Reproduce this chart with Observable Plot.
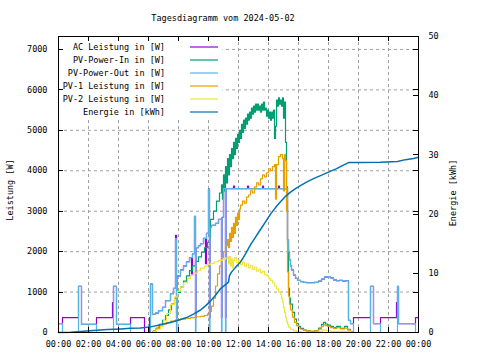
<!DOCTYPE html>
<html><head><meta charset="utf-8">
<script src="https://cdn.jsdelivr.net/npm/d3@7"></script>
<script src="https://cdn.jsdelivr.net/npm/@observablehq/plot@0.6"></script>
<style>body{margin:0;background:#fff}svg{display:block}</style>
</head><body><div id="chart"></div>
<script>
// ---------- data ----------
const title = "Tagesdiagramm vom 2024-05-02";
const xTicks = [0,2,4,6,8,10,12,14,16,18,20,22,24];
const yTicks = [0,1000,2000,3000,4000,5000,6000,7000];
const y2Ticks = [0,10,20,30,40,50];
const seriesNames = ["AC Leistung in [W]","PV-Power-In in [W]","PV-Power-Out in [W]","PV-1 Leistung in [W]","PV-2 Leistung in [W]","Energie in [kWh]"];
const seriesColors = ["#9400d3","#009e73","#56b4e9","#e69f00","#f0e442","#0072b2"];

const acTimes = ["00:00","00:16","01:20","01:32","02:32","03:36","03:40","03:52","04:48","05:44","06:04","06:08","06:16","06:28","06:40","06:56","07:08","07:28","07:40","07:48","07:52","07:54","08:08","08:20","08:32","08:44","08:52","08:56","09:04","09:08","09:10","09:20","09:28","09:40","09:48","09:52","10:00","10:04","10:06","10:12","10:28","10:40","10:52","10:54","11:00","11:08","11:10","11:16","11:40","11:44","12:36","12:40","13:36","13:40","14:40","14:44","15:16","15:20","15:24","15:28","15:32","15:40","15:48","15:56","16:08","16:20","16:32","16:48","17:04","17:20","17:32","17:44","17:56","18:08","18:20","18:32","18:44","18:56","19:08","19:20","19:28","19:40","20:48","21:00","21:28","22:32","22:36","22:40","23:48","24:00"];
const acValues = [220,370,1140,200,370,740,1140,200,370,0,370,1200,450,480,540,620,790,960,1090,2400,370,1400,1550,1650,1750,1850,1450,1950,2870,370,2100,2150,2200,2330,1700,2450,3550,370,2600,2650,2700,2800,370,2850,3560,370,3560,3560,3620,3560,3620,3560,3620,3560,3620,3560,2300,2000,1800,1650,1550,1420,1340,1290,1260,1240,1230,1230,1240,1270,1320,1370,1380,1350,1300,1280,1290,1270,1280,300,220,370,1140,220,370,740,1140,220,370,370];

const pvInTimes = ["06:08","06:20","06:32","06:44","06:56","07:08","07:20","07:32","07:44","07:56","08:08","08:20","08:32","08:44","08:56","09:08","09:20","09:32","09:44","09:56","10:04","10:08","10:20","10:32","10:44","10:52","10:56","11:00","11:04","11:08","11:12","11:16","11:20","11:24","11:28","11:32","11:36","11:40","11:44","11:48","11:52","11:56","12:00","12:04","12:08","12:12","12:16","12:20","12:24","12:28","12:32","12:36","12:40","12:44","12:48","12:52","12:56","13:00","13:04","13:08","13:12","13:16","13:20","13:24","13:28","13:32","13:36","13:40","13:44","13:48","13:52","13:56","14:00","14:04","14:08","14:12","14:16","14:20","14:24","14:28","14:32","14:36","14:40","14:44","14:48","14:52","14:56","15:00","15:04","15:08","15:12","15:16","15:20","15:24","15:28","15:36","15:44","15:52","16:00","16:08","16:20","16:32","16:48","17:04","17:20","17:32","17:40","17:48","17:56","18:08","18:20","18:32","18:48","19:04","19:16","19:28","19:40"];
const pvInValues = [0,40,110,200,300,420,560,700,850,990,1130,1270,1400,1530,1650,1760,1870,1990,2100,2230,2350,2800,3000,3250,3450,3650,3300,3900,3500,4100,3700,4300,3900,4400,4100,4550,4300,4700,4400,4800,4550,4900,4700,5000,4800,5150,4950,5250,5050,5300,5150,5400,5250,5450,5300,5550,5400,5600,5450,5650,5500,5650,5500,5600,5450,5650,5500,5700,5500,5550,5350,5500,5300,5450,5250,5450,5300,5500,4800,5100,5750,5600,5800,5650,5750,5600,5800,5300,5700,4700,3600,2200,1100,850,700,500,330,220,150,100,60,40,30,40,110,200,250,210,180,150,120,150,100,150,80,20,0];

const pvOutTimes = ["00:00","00:16","01:20","01:32","02:32","03:40","03:52","04:48","06:08","06:16","06:28","06:40","06:56","07:08","07:28","07:40","07:48","07:52","07:54","08:08","08:20","08:32","08:44","08:56","09:04","09:08","09:10","09:20","09:28","09:40","09:52","10:00","10:04","10:06","10:12","10:28","10:40","10:52","10:54","11:00","11:08","11:10","11:16","15:16","15:20","15:24","15:28","15:32","15:40","15:48","15:56","16:08","16:20","16:32","16:48","17:04","17:20","17:32","17:44","17:56","18:08","18:20","18:32","18:44","18:56","19:08","19:20","19:28","19:40","20:48","21:00","21:28","22:36","22:40","23:48","24:00"];
const pvOutValues = [220,0,1140,200,0,1140,200,0,1200,450,480,540,620,790,960,1090,2320,0,1400,1550,1650,1750,1850,1950,2870,0,2100,2150,2200,2330,2450,3550,0,2600,2650,2700,2800,0,2850,3560,0,3560,3560,2300,2000,1800,1650,1550,1420,1340,1290,1260,1240,1230,1230,1240,1270,1320,1370,1380,1350,1300,1280,1290,1270,1280,300,220,0,1140,220,0,1140,220,0,0];

const pv1Times = ["06:08","06:16","06:28","06:40","06:56","07:12","07:28","07:48","08:08","08:28","08:48","09:08","09:28","09:44","09:56","10:04","10:12","10:20","10:28","10:36","10:44","10:52","11:00","11:08","11:16","11:20","11:24","11:28","11:32","11:36","11:40","11:44","11:48","11:52","11:56","12:00","12:04","12:08","12:16","12:24","12:32","12:40","12:48","12:56","13:04","13:12","13:20","13:28","13:36","13:44","13:52","14:00","14:08","14:16","14:24","14:28","14:32","14:40","14:48","14:56","15:00","15:04","15:08","15:12","15:16","15:20","15:24","15:28","15:36","15:44","15:52","16:00","16:08","16:20","16:32","16:48","17:04","17:20","17:32","17:40","17:48","17:56","18:08","18:20","18:32","18:48","19:04","19:16","19:28","19:40"];
const pv1Values = [0,30,90,150,210,250,280,310,330,350,370,390,400,420,460,520,650,850,1150,1450,1650,1850,2000,2150,2300,2100,2450,2250,2600,2350,2700,2450,2850,2650,2950,2800,3050,3150,3250,3200,3350,3400,3500,3450,3600,3700,3650,3800,3900,3850,3950,4050,4000,4100,4150,3300,4150,4350,4400,4300,3500,4400,4250,3000,1500,900,700,560,380,250,170,110,80,60,40,30,40,80,150,190,170,150,120,100,120,90,110,60,20,0];

const pv2Times = ["06:08","06:20","06:32","06:48","07:00","07:12","07:28","07:44","07:56","08:08","08:20","08:36","08:48","09:00","09:16","09:28","09:44","09:56","10:08","10:24","10:40","10:56","11:08","11:16","11:20","11:24","11:28","11:32","11:36","11:40","11:44","11:52","12:00","12:08","12:16","12:24","12:32","12:40","12:48","12:56","13:04","13:12","13:20","13:28","13:36","13:44","13:52","14:00","14:08","14:16","14:24","14:32","14:40","14:48","14:52","14:56","15:00","15:04","15:08","15:12","15:16","15:20","15:28","15:40","15:52","16:08","16:28","17:20","17:36","17:52","18:08","18:28","18:48","19:08","19:28"];
const pv2Values = [0,30,80,150,300,470,690,880,1020,1130,1230,1340,1410,1470,1540,1590,1640,1680,1710,1750,1780,1810,1840,1870,1700,1880,1650,1820,1600,1780,1850,1730,1790,1680,1740,1640,1700,1600,1660,1560,1620,1520,1560,1480,1520,1430,1400,1330,1290,1230,1150,1080,1000,940,850,750,620,500,380,280,200,130,80,40,20,10,0,20,60,50,30,20,30,20,0];

const energyTimes = ["00:00","00:48","01:28","02:20","03:16","04:08","04:48","05:28","06:08","06:48","07:28","08:08","08:36","09:00","09:28","09:48","10:08","10:28","10:48","11:08","11:20","11:24","11:32","11:48","12:08","12:28","12:48","13:08","13:28","13:48","14:08","14:28","14:48","15:08","15:28","15:48","16:08","16:32","17:00","17:28","18:00","18:28","18:56","19:20","20:08","21:28","22:36","23:08","23:40","24:00"];
const energyValues = [0,0.05,0.17,0.34,0.5,0.6,0.7,0.78,0.95,1.3,1.7,2.2,2.6,3.1,3.8,4.5,5.3,6.3,7.4,8.1,8.5,9.6,10.2,11.0,11.9,13.3,14.8,16.1,17.4,18.7,20.0,21.1,22.1,23.0,23.7,24.3,24.8,25.4,26.0,26.5,27.1,27.6,28.2,28.7,28.7,28.75,28.9,29.2,29.4,29.6];

// ---------- build ----------
const yMax = 7320;          // left axis top (W)
const y2Max = 50;           // right axis top (kWh)
const k = yMax / y2Max;
const toH = s => { const [h, m] = s.split(":").map(Number); return h + m / 60; };
const zip = (ts, vs, f = v => v) => ts.map((t, i) => ({t: toH(t), v: f(vs[i])}));

const ac = zip(acTimes, acValues);
const pvIn = zip(pvInTimes, pvInValues);
const pvOut = zip(pvOutTimes, pvOutValues);
const pv1 = zip(pv1Times, pv1Values);
const pv2 = zip(pv2Times, pv2Values);
const energy = zip(energyTimes, energyValues, v => v * k);

const FONT = "DejaVu Sans Mono";
const lw = 1.2;
const fmtT = h => String(h % 24).padStart(2, "0") + ":00";

const plot = Plot.plot({
  width: 480, height: 360,
  marginLeft: 58, marginRight: 62, marginTop: 36, marginBottom: 28,
  style: {fontFamily: FONT, fontSize: "8.5px", background: "white", color: "black"},
  x: {domain: [0, 24]},
  y: {domain: [0, yMax]},
  marks: [
    Plot.gridX(xTicks.slice(1, -1), {stroke: "#a0a0a0", strokeOpacity: 1, strokeDasharray: "3,3", strokeWidth: 1}),
    Plot.gridY(yTicks.slice(1), {stroke: "#a0a0a0", strokeOpacity: 1, strokeDasharray: "3,3", strokeWidth: 1}),
    Plot.line(ac, {x: "t", y: "v", stroke: seriesColors[0], strokeWidth: lw, curve: "step-after"}),
    Plot.line(pvIn, {x: "t", y: "v", stroke: seriesColors[1], strokeWidth: lw, curve: "step-after"}),
    Plot.line(pvOut, {x: "t", y: "v", stroke: seriesColors[2], strokeWidth: lw, curve: "step-after"}),
    Plot.line(pv1, {x: "t", y: "v", stroke: seriesColors[3], strokeWidth: lw, curve: "step-after"}),
    Plot.line(pv2, {x: "t", y: "v", stroke: seriesColors[4], strokeWidth: lw, curve: "step-after"}),
    Plot.line(energy, {x: "t", y: "v", stroke: seriesColors[5], strokeWidth: 1.5, curve: "linear"}),
    Plot.frame({stroke: "black", strokeWidth: 1}),
    Plot.axisX({ticks: xTicks, tickFormat: fmtT, tickSize: 0, tickPadding: 8, label: null, fill: "black"}),
    Plot.axisY({anchor: "left", ticks: yTicks, tickFormat: d => String(d), tickSize: 0, tickPadding: 11, label: null, fill: "black"}),
    Plot.axisY({anchor: "right", ticks: y2Ticks.map(e => e * k), tickFormat: d => String(Math.round(d / k)), tickSize: 0, tickPadding: 10, label: null, fill: "black"})
  ]
});

const svg = d3.select(plot);
const xs = plot.scale("x"), ys = plot.scale("y");
const X0 = xs.apply(0), X1 = xs.apply(24), Y0 = ys.apply(0), Y1 = ys.apply(yMax);

// legend background (opaque key box hides the grid)
svg.insert("rect", 'g[aria-label="line"]')
  .attr("x", X0 + 0.5).attr("y", Y1 + 0.5).attr("width", 164).attr("height", 82).attr("fill", "white");

// inward tick marks
const tg = svg.append("g").attr("stroke", "black").attr("stroke-width", 1).attr("shape-rendering", "crispEdges");
for (const h of xTicks) {
  const x = Math.round(xs.apply(h)) + 0.5;
  tg.append("line").attr("x1", x).attr("x2", x).attr("y1", Y0).attr("y2", Y0 - 5);
  tg.append("line").attr("x1", x).attr("x2", x).attr("y1", Y1).attr("y2", Y1 + 5);
}
for (const v of yTicks) {
  const y = Math.round(ys.apply(v)) + 0.5;
  tg.append("line").attr("x1", X0).attr("x2", X0 + 5).attr("y1", y).attr("y2", y);
  tg.append("line").attr("x1", X1).attr("x2", X1 - 5).attr("y1", y).attr("y2", y);
}
for (const e of y2Ticks) {
  const y = Math.round(ys.apply(e * k)) + 0.5;
  tg.append("line").attr("x1", X1).attr("x2", X1 - 5).attr("y1", y).attr("y2", y);
}

// texts
const txt = (x, y, s, anchor = "middle", rot = 0) => svg.append("text")
  .attr("transform", `translate(${x},${y})` + (rot ? ` rotate(${rot})` : ""))
  .attr("text-anchor", anchor).attr("dominant-baseline", "middle")
  .attr("font-family", FONT).attr("font-size", "8.5px").attr("fill", "black").text(s);

txt(223, 18, title);
txt(10, 190, "Leistung [W]", "middle", -90);
txt(453, 193, "Energie [kWh]", "middle", -90);

// legend
seriesNames.forEach((name, i) => {
  const y = Y1 + 11 + i * 13;
  txt(165, y, name, "end");
  svg.append("line").attr("x1", 190).attr("x2", 218).attr("y1", y).attr("y2", y)
    .attr("stroke", seriesColors[i]).attr("stroke-width", lw);
});

document.getElementById("chart").appendChild(plot);
</script>
</body></html>
